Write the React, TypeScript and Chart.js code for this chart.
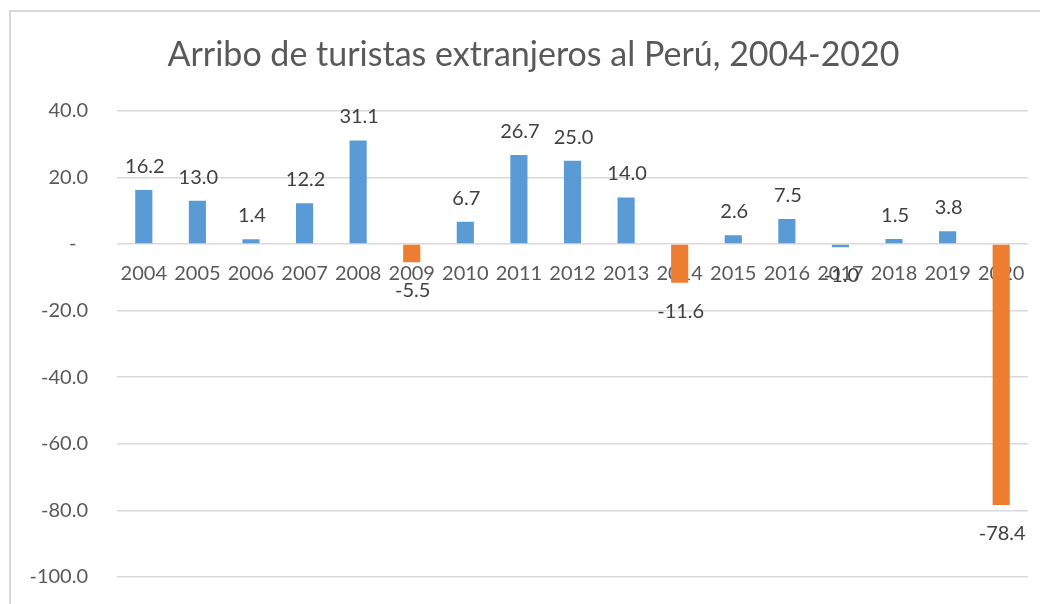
import React, { useEffect, useRef } from 'react';
import { Chart, registerables } from 'chart.js';

Chart.register(...registerables);

const chartTitle = 'Arribo de turistas extranjeros al Perú, 2004-2020';
const years = ['2004', '2005', '2006', '2007', '2008', '2009', '2010', '2011', '2012', '2013', '2014', '2015', '2016', '2017', '2018', '2019', '2020'];
const growth = [16.2, 13.0, 1.4, 12.2, 31.1, -5.5, 6.7, 26.7, 25.0, 14.0, -11.6, 2.6, 7.5, -1.0, 1.5, 3.8, -78.4];
const highlightedYears = ['2009', '2014', '2020'];
const yMin = -100;
const yMax = 40;
const yStep = 20;

const FONT = 'Lato, "Open Sans", sans-serif';
const BLUE = '#5B9BD5';
const ORANGE = '#ED7D31';

const barLabelPlugin = {
  id: 'barLabels',
  afterDatasetsDraw(chart: any) {
    const ctx = chart.ctx;
    const meta = chart.getDatasetMeta(0);
    ctx.save();
    ctx.font = `20px ${FONT}`;
    ctx.fillStyle = '#404040';
    ctx.textAlign = 'center';
    ctx.textBaseline = 'alphabetic';
    meta.data.forEach((bar: any, i: number) => {
      const v = growth[i];
      const y = v >= 0 ? bar.y - 17 : bar.y + 35;
      ctx.fillText(v.toFixed(1), bar.x + 1, y);
    });
    ctx.restore();
  },
};

export default function App() {
  const ref = useRef<HTMLCanvasElement>(null);

  useEffect(() => {
    const chart = new Chart(ref.current as HTMLCanvasElement, {
      type: 'bar',
      data: {
        labels: years,
        datasets: [
          {
            data: growth,
            backgroundColor: years.map((y) => (highlightedYears.includes(y) ? ORANGE : BLUE)),
            barPercentage: 0.32,
            categoryPercentage: 1,
          },
        ],
      },
      options: {
        responsive: false,
        animation: false,
        layout: { padding: { left: 0, right: 0, top: 0, bottom: 85 } },
        plugins: {
          legend: { display: false },
          tooltip: { enabled: false },
          title: {
            display: true,
            text: chartTitle,
            color: '#595959',
            font: { family: FONT, size: 34, weight: 'normal' },
            padding: { top: 23, bottom: 35 },
          },
        },
        scales: {
          x: {
            position: { y: 0 } as any,
            grid: { display: false, drawTicks: false },
            border: { display: false },
            ticks: {
              color: '#595959',
              font: { family: FONT, size: 20 },
              padding: 18,
              maxRotation: 0,
              autoSkip: false,
            },
          },
          y: {
            min: yMin,
            max: yMax,
            grid: { color: '#d9d9d9', lineWidth: 1.5, drawTicks: false },
            border: { display: false },
            ticks: {
              stepSize: yStep,
              padding: 29,
              color: '#595959',
              font: { family: FONT, size: 20 },
              callback: (v: any) => (Number(v) === 0 ? '-\u2007' : Number(v).toFixed(1)),
            },
            afterFit: (s: any) => {
              s.width = 106;
            },
          },
          spacer: {
            type: 'linear',
            position: 'right',
            grid: { display: false, drawTicks: false },
            border: { display: false },
            ticks: { display: false },
            afterFit: (s: any) => {
              s.width = 28;
            },
          },
        },
      },
      plugins: [barLabelPlugin],
    });
    return () => chart.destroy();
  }, []);

  return (
    <div style={{ position: 'relative', width: 1040, height: 596, overflow: 'hidden' }}>
      <div
        style={{
          position: 'absolute',
          left: 1,
          top: 2,
          borderTop: '2px solid #d9d9d9',
          borderLeft: '2px solid #d9d9d9',
          width: 1045,
          height: 650,
        }}
      >
        <canvas ref={ref} width={1045} height={650} style={{ display: 'block', width: 1045, height: 650 }} />
      </div>
    </div>
  );
}
